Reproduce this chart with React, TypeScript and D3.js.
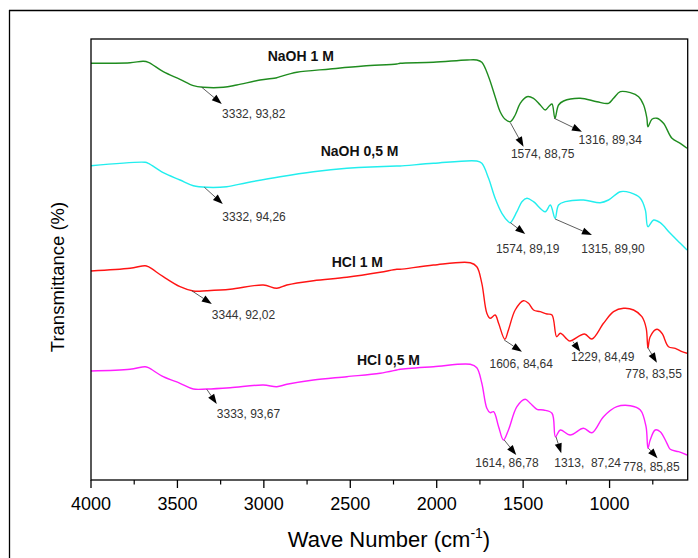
import React from 'react';
import * as d3 from 'd3';

// ---------- data ----------
// x: wave number (cm-1); y: offset transmittance (arbitrary stacked units)
const xMajorTicks = [4000, 3500, 3000, 2500, 2000, 1500, 1000];
const xMinorTicks = [3750, 3250, 2750, 2250, 1750, 1250, 750];
const xDomain: [number, number] = [4000, 548];

const naoh1M: [number, number][] = [
  [4000, 416.7], [3774, 417.3], [3697, 418.7], [3668, 417.7], [3582, 408.3], [3485, 400.7],
  [3408, 394.3], [3350, 392.7], [3234, 392.7], [3157, 395], [3022, 400], [2925, 402.3],
  [2906, 403.3], [2809, 407.7], [2617, 411], [2424, 414], [2231, 416], [2212, 416.7],
  [2019, 417.7], [1825, 420], [1768, 420], [1739, 417.7], [1700, 403.3], [1662, 383.3],
  [1633, 368.3], [1604, 360.7], [1574, 358.3], [1546, 365], [1517, 376.7], [1478, 383.3],
  [1440, 381.7], [1401, 375], [1372, 370], [1349, 374], [1333, 376], [1316, 361.7],
  [1295, 375], [1266, 379], [1170, 381.7], [1073, 378.3], [1006, 376.7], [977, 381.7],
  [938, 388.3], [880, 387.3], [832, 383.3], [803, 375], [784, 361.7], [778, 353.3],
  [755, 360.7], [726, 361.7], [688, 356.7], [639, 341.7], [591, 336.7], [552, 331.7],
];

const naoh05M: [number, number][] = [
  [4000, 314.3], [3687, 317.7], [3668, 316.7], [3582, 307.3], [3485, 300], [3408, 294.3],
  [3330, 292.7], [3215, 293.3], [3099, 297.3], [2906, 303.3], [2713, 308.3], [2520, 311.7],
  [2231, 314], [2212, 314], [2019, 316.7], [1768, 319], [1739, 316.7], [1700, 301.7],
  [1662, 281.7], [1623, 266.7], [1585, 258.3], [1574, 257.3], [1536, 268.3], [1507, 278.3],
  [1478, 281.7], [1440, 278.3], [1372, 268.3], [1343, 275], [1315, 261.7], [1295, 275],
  [1256, 278.3], [1151, 280], [1054, 277.3], [1006, 280], [938, 288.3], [880, 287.3],
  [822, 281.7], [793, 270], [778, 253.3], [745, 260], [707, 257.3], [649, 246.7],
  [591, 236.7], [552, 230],
];

const hcl1M: [number, number][] = [
  [4000, 209], [3774, 211.7], [3687, 214.3], [3668, 213.3], [3582, 203.3], [3485, 193.3],
  [3408, 189], [3330, 189.3], [3195, 190.7], [3003, 195], [2925, 191.7], [2867, 195],
  [2713, 199.3], [2520, 202.7], [2327, 207.7], [2231, 210.7], [2212, 210.7], [2019, 215],
  [1806, 217.3], [1768, 213.3], [1739, 196.7], [1710, 166.7], [1691, 161.7], [1662, 165],
  [1642, 156.7], [1606, 140.7], [1585, 150], [1546, 170], [1498, 179.3], [1469, 176.7],
  [1440, 170], [1401, 168.3], [1362, 166], [1333, 165], [1306, 143.3], [1285, 146.7],
  [1246, 140.7], [1229, 139], [1145, 146], [1102, 141], [1035, 156.7], [977, 168.3],
  [919, 171.7], [861, 170], [813, 163.3], [788, 151.7], [778, 132], [765, 143.3],
  [726, 150.7], [697, 146.7], [659, 133.3], [620, 131.7], [581, 128.3], [552, 126.7],
];

const hcl05M: [number, number][] = [
  [4000, 109], [3774, 110.7], [3687, 113.3], [3668, 112.3], [3582, 103.3], [3485, 96.7],
  [3408, 91], [3330, 91], [3195, 92.3], [3003, 95], [2925, 93.3], [2867, 95.7],
  [2713, 100], [2520, 103.3], [2327, 106.7], [2231, 110], [2212, 110.7], [2019, 113.3],
  [1806, 115.7], [1768, 112.3], [1739, 96.7], [1710, 71.7], [1691, 67.3], [1671, 68.3],
  [1642, 53.3], [1614, 40], [1585, 50], [1536, 73.3], [1488, 80.7], [1459, 76.7],
  [1420, 70.7], [1382, 70], [1333, 66.7], [1313, 43.3], [1285, 50], [1228, 45],
  [1151, 51.7], [1102, 47.3], [1035, 63.3], [958, 73.3], [880, 74.3], [822, 70],
  [789, 53.3], [778, 31.7], [765, 40], [736, 50], [707, 48.3], [668, 36.7],
  [649, 30.7], [601, 28.3], [552, 25],
];

const seriesData = [naoh1M, naoh05M, hcl1M, hcl05M];
const seriesNames = ['NaOH 1 M', 'NaOH 0,5 M', 'HCl 1 M', 'HCl 0,5 M'];

const annSeries = [0, 0, 0, 1, 1, 1, 2, 2, 2, 2, 3, 3, 3, 3];
const annWn = [3332, 1574, 1316, 3332, 1574, 1315, 3344, 1606, 1229, 778, 3333, 1614, 1313, 778];
const annText = [
  '3332, 93,82', '1574, 88,75', '1316, 89,34',
  '3332, 94,26', '1574, 89,19', '1315, 89,90',
  '3344, 92,02', '1606, 84,64', '1229, 84,49', '778, 83,55',
  '3333, 93,67', '1614, 86,78', '1313,  87,24', '778, 85,85',
];

// ---------- layout / style ----------
const W = 698;
const H = 558;
const plot = { left: 91, top: 39, right: 687.7, bottom: 480 };
const seriesColors = ['#1f8c1f', '#22eeee', '#ff1414', '#ff1eff'];
const seriesLabelPos: [number, number][] = [[267.7, 61], [320.7, 156], [331.7, 267], [357, 365]];
// offsets relative to the labelled point: [startDx, startDy, endDx, endDy, textDx, textDy]
const annLayout: number[][] = [
  [-4.7, 0, 15.3, 16.7, 15.6, 30.7],
  [0, 1, 13.2, 25, 0.6, 36.6],
  [-0.7, 0, 27, 13.4, 23.6, 26],
  [-2.1, 0, 16.3, 16.7, 15.9, 33.4],
  [0, 0, 14.9, 11.3, -14.4, 30],
  [0, 0.7, 36.8, 16.7, 26.1, 34.4],
  [-12.6, 0, 7.4, 13.2, 7.4, 28.5],
  [-0.6, 0.7, 17.1, 12.4, -15.3, 29],
  [3, 0.7, 10.3, 10.7, 1, 19.7],
  [-0.4, -0.7, 9, 14.7, -22.7, 30.3],
  [0.5, 0.3, 10.5, 15, 10.5, 28.7],
  [0.8, 0, 12.8, 15, -28.2, 27.3],
  [0.5, 0, 5.8, 16.6, -1.2, 30.6],
  [0.6, 0, 9.6, 10, -25, 22.4],
];
const FONT = "'Liberation Sans', Arial, Helvetica, sans-serif";

function interp(series: [number, number][], wn: number): number {
  for (let i = 0; i < series.length - 1; i++) {
    const [x0, y0] = series[i];
    const [x1, y1] = series[i + 1];
    if ((wn <= x0 && wn >= x1) || (wn >= x0 && wn <= x1)) {
      const t = x1 === x0 ? 0 : (wn - x0) / (x1 - x0);
      return y0 + t * (y1 - y0);
    }
  }
  return series[series.length - 1][1];
}

export default function App() {
  const x = d3.scaleLinear().domain(xDomain).range([plot.left, plot.right]);
  const y = d3.scaleLinear().domain([0, plot.bottom - plot.top]).range([plot.bottom, plot.top]);
  const line = d3
    .line<[number, number]>()
    .x((d) => x(d[0]))
    .y((d) => y(d[1]))
    .curve(d3.curveCatmullRom.alpha(0.5));

  return (
    <svg
      width={W}
      height={H}
      viewBox={`0 0 ${W} ${H}`}
      style={{ position: 'absolute', left: 0, top: 0, background: '#fff', fontFamily: FONT }}
    >
      <rect x={0} y={0} width={W} height={H} fill="#fff" />
      {/* outer frame */}
      <line x1={9.5} y1={10} x2={9.5} y2={H} stroke="#000" strokeWidth={1.3} />
      <line x1={9} y1={10.5} x2={W} y2={10.5} stroke="#000" strokeWidth={1.3} />

      {/* series */}
      <g>
        {seriesData.map((s, i) => (
          <path key={i} d={line(s) || ''} fill="none" stroke={seriesColors[i]} strokeWidth={1.4} strokeLinejoin="round" />
        ))}
      </g>

      {/* plot border */}
      <rect
        x={plot.left}
        y={plot.top}
        width={plot.right - plot.left}
        height={plot.bottom - plot.top}
        fill="none"
        stroke="#000"
        strokeWidth={1.3}
      />

      {/* x axis ticks */}
      <g>
        {xMajorTicks.map((t) => (
          <g key={t}>
            <line x1={x(t)} x2={x(t)} y1={plot.bottom} y2={plot.bottom + 8} stroke="#000" strokeWidth={1.3} />
            <text x={x(t)} y={509.5} textAnchor="middle" fontSize={18} fill="#000">
              {t}
            </text>
          </g>
        ))}
        {xMinorTicks.map((t) => (
          <line key={t} x1={x(t)} x2={x(t)} y1={plot.bottom} y2={plot.bottom + 4.5} stroke="#000" strokeWidth={1.2} />
        ))}
      </g>

      {/* axis titles */}
      <text x={389} y={547} textAnchor="middle" fontSize={22} fill="#000">
        Wave Number (cm
        <tspan fontSize={14} dy={-9}>-1</tspan>
        <tspan dy={9}>)</tspan>
      </text>
      <text transform="translate(64,277) rotate(-90)" textAnchor="middle" fontSize={18.5} fill="#000">
        Transmittance (%)
      </text>

      {/* series labels */}
      {seriesNames.map((n, i) => (
        <text key={n} x={seriesLabelPos[i][0]} y={seriesLabelPos[i][1]} fontSize={14} fontWeight="bold" fill="#111">
          {n}
        </text>
      ))}

      {/* peak annotations */}
      {annText.map((t, i) => {
        const s = seriesData[annSeries[i]];
        const px = x(annWn[i]);
        const py = y(interp(s, annWn[i]));
        const [sdx, sdy, edx, edy, tdx, tdy] = annLayout[i];
        const sx = px + sdx;
        const sy = py + sdy;
        const ex = px + edx;
        const ey = py + edy;
        const ang = Math.atan2(ey - sy, ex - sx);
        const L = 10;
        const hw = 3.6;
        const bx = ex - L * Math.cos(ang);
        const by = ey - L * Math.sin(ang);
        const nx = -Math.sin(ang) * hw;
        const ny = Math.cos(ang) * hw;
        return (
          <g key={i}>
            <line x1={sx} y1={sy} x2={bx} y2={by} stroke="#333" strokeWidth={0.8} />
            <polygon points={`${ex},${ey} ${bx + nx},${by + ny} ${bx - nx},${by - ny}`} fill="#000" />
            <text x={px + tdx} y={py + tdy} fontSize={12} fill="#333" style={{ whiteSpace: 'pre' }} xmlSpace="preserve">
              {t}
            </text>
          </g>
        );
      })}
    </svg>
  );
}
